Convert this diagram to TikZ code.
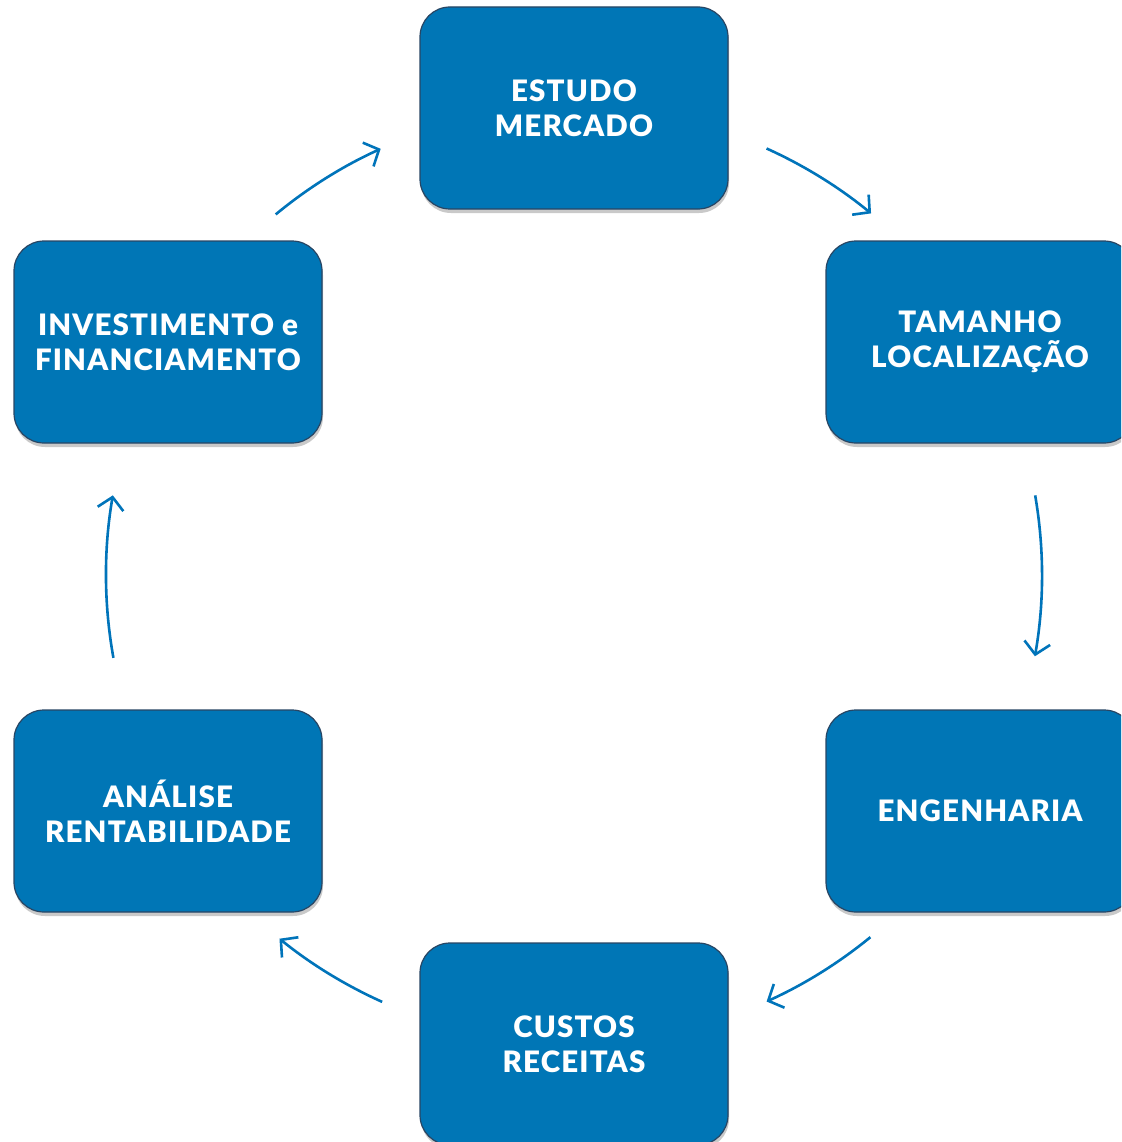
\documentclass[tikz,border=0pt]{standalone}
\usepackage{fontspec}
\setmainfont{Lato}[BoldFont={Lato Black}]
\usetikzlibrary{arrows.meta,shadows}
\definecolor{boxblue}{RGB}{0,118,182}
\definecolor{boxedge}{RGB}{40,70,100}
\definecolor{arrowblue}{RGB}{0,116,186}
\tikzset{
  box/.style={draw=boxedge, line width=1.2pt, fill=boxblue, rounded corners=30pt,
    minimum width=308pt, minimum height=202pt, inner sep=0pt, align=center,
    text=white, font=\fontsize{29.5}{35}\selectfont\bfseries\addfontfeatures{LetterSpace=4}},
  shadowbox/.style={box, drop shadow={shadow xshift=1pt, shadow yshift=-4pt, opacity=0.35, fill=black!60}},
  arr/.style={draw=arrowblue, line width=2.6pt,
    -{Straight Barb[length=12pt,width=26pt,line width=2.6pt]}}
}
\begin{document}
\begin{tikzpicture}[x=1pt,y=-1pt]
\useasboundingbox (0,0) rectangle (1121,1142);
\clip (0,0) rectangle (1121,1142);
\fill[white] (0,0) rectangle (1121,1142);
\node[shadowbox] (estudo) at (574,108) {ESTUDO\\MERCADO};
\node[shadowbox] (tamanho) at (980,342) {TAMANHO\\LOCALIZAÇÃO};
\node[shadowbox] (eng) at (980,811) {ENGENHARIA};
\node[shadowbox] (custos) at (574,1044) {CUSTOS\\RECEITAS};
\node[shadowbox] (analise) at (168,811) {ANÁLISE\\RENTABILIDADE};
\node[shadowbox] (invest) at (168,342) {INVESTIMENTO e\\FINANCIAMENTO};
\coordinate (c) at (574,575);
\path (c) ++(-65.7:468) coordinate (a1);
\path (c) ++(-9.8:468) coordinate (a2);
\path (c) ++(50.7:468) coordinate (a3);
\path (c) ++(114.2:468) coordinate (a4);
\path (c) ++(169.8:468) coordinate (a5);
\path (c) ++(230.4:468) coordinate (a6);
\draw[arr] (a1) arc[start angle=-65.7, end angle=-50.6, radius=468];
\draw[arr] (a2) arc[start angle=-9.8, end angle=10, radius=468];
\draw[arr] (a3) arc[start angle=50.7, end angle=65.7, radius=468];
\draw[arr] (a4) arc[start angle=114.2, end angle=129, radius=468];
\draw[arr] (a5) arc[start angle=169.8, end angle=189.8, radius=468];
\draw[arr] (a6) arc[start angle=230.4, end angle=245.6, radius=468];
\end{tikzpicture}
\end{document}
